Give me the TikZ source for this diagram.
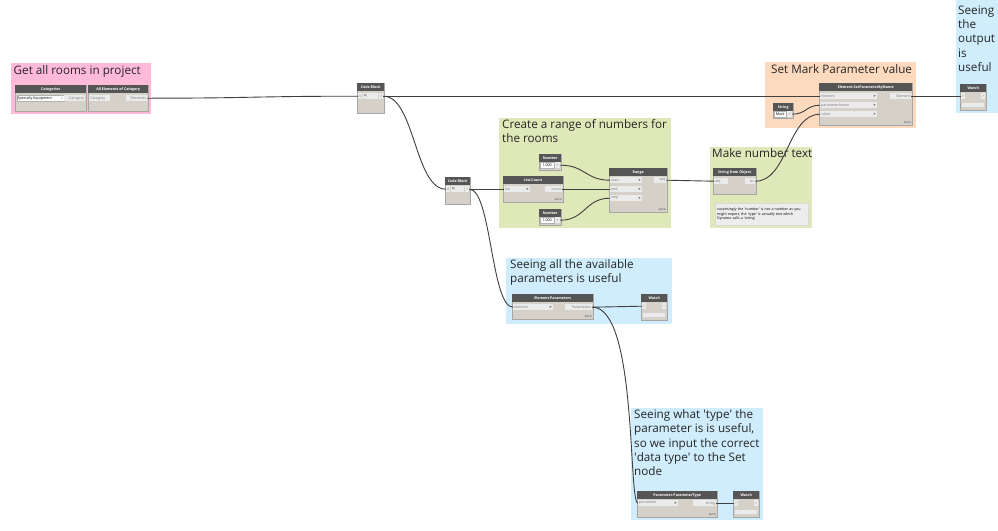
\documentclass[tikz,border=0pt]{standalone}
\usepackage{fontspec}
\setmainfont{Open Sans}
\usetikzlibrary{calc}
\definecolor{grpPink}{HTML}{FFBAD9}
\definecolor{grpGreen}{HTML}{DFE8B8}
\definecolor{grpOrange}{HTML}{FDD9BE}
\definecolor{grpBlue}{HTML}{CFEDFC}
\definecolor{hdr}{HTML}{555555}
\definecolor{bodyc}{HTML}{D5D1C9}
\definecolor{portc}{HTML}{EBEBEB}
\definecolor{wirec}{HTML}{3F3F3F}
\definecolor{ptxt}{HTML}{7A7A7A}
\newcommand{\sq}{\textquotesingle}
\tikzset{
 gtitle/.style={anchor=north west, inner sep=0, align=left, font=\fontsize{11.7}{14.3}\selectfont, text=black!85},
 dbody/.style={anchor=north west, fill=bodyc, draw=black!35, line width=0.4, inner sep=0},
 dhead/.style={anchor=north west, fill=hdr, text=white, inner sep=0, minimum height=8pt, font=\fontsize{3.6}{4}\selectfont\bfseries},
 portbox/.style={anchor=north west, fill=portc, inner sep=0, minimum height=6pt},
 ptext/.style={inner sep=0, text=ptxt, font=\fontsize{3.6}{4}\selectfont},
 valbox/.style={anchor=north west, fill=white, draw=black!30, line width=0.3, inner sep=0, minimum height=6pt, font=\fontsize{3.6}{4}\selectfont},
 autot/.style={inner sep=0, anchor=south east, font=\fontsize{2.4}{3}\selectfont\bfseries, text=black!60},
 watchbox/.style={anchor=north west, fill=portc, inner sep=0, minimum height=4pt},
 notebox/.style={anchor=north west, fill=black!7, draw=black!15, line width=0.3, inner xsep=2pt, inner ysep=1.5pt, text width=89pt, minimum height=22pt, align=left, font=\fontsize{3.6}{4.6}\selectfont},
 wire/.style={draw=wirec, line width=0.9},
}
\newcommand{\dyn}[6]{%
 \node[dbody, minimum width=#4pt, minimum height=#5pt] (#1) at (#2,#3) {};
 \node[dhead, minimum width=#4pt] (#1-h) at (#2,#3) {#6};}
\newcommand{\inport}[5]{%
 \node[portbox, minimum width=#4pt] (#1) at (#2,#3) {};
 \node[ptext, anchor=west] (#1-l) at ([xshift=1pt]#1.west) {#5};
 \node[ptext, anchor=east, text=black] (#1-a) at ([xshift=-1.5pt]#1.east) {\textbf{>}};}
\newcommand{\plainport}[5]{%
 \node[portbox, minimum width=#4pt] (#1) at (#2,#3) {};
 \node[ptext, anchor=west] (#1-l) at ([xshift=1pt]#1.west) {#5};}
\newcommand{\outport}[5]{%
 \node[portbox, minimum width=#4pt] (#1) at (#2,#3) {};
 \node[ptext, anchor=east] (#1-l) at ([xshift=-1pt]#1.east) {#5};}
\newcommand{\tabport}[5]{%
 \node[portbox, minimum width=#4pt] (#1) at (#2,#3) {};
 \node[ptext] (#1-l) at (#1.center) {#5};}
\newcommand{\autolabel}[1]{\node[autot] (#1-auto) at ([xshift=-1.5pt,yshift=1.2pt]#1.south east) {AUTO};}
\newcommand{\watch}[3]{%
 \dyn{#1}{#2}{#3}{26}{26}{Watch}
 \tabport{#1-i}{#2+1}{#3+9}{4}{>}
 \tabport{#1-o}{#2+21}{#3+9}{4}{>}
 \node[watchbox, minimum width=22pt] (#1-b) at (#2+2,#3+19) {};}
\newcommand{\wire}[2]{\draw[wire] let \p1=(#1), \p2=(#2) in (\p1) .. controls ({(\x1+\x2)/2},\y1) and ({(\x1+\x2)/2},\y2) .. (\p2);}
\begin{document}
\begin{tikzpicture}[x=1pt,y=-1pt]
\useasboundingbox (0,0) rectangle (998,530);
\fill[white] (0,0) rectangle (998,530);
% groups
\fill[grpPink] (11,63) rectangle (151,114);
\fill[grpGreen] (499,118) rectangle (671,228);
\fill[grpGreen] (710,147) rectangle (812,228);
\fill[grpOrange] (765,62) rectangle (916,128);
\fill[grpBlue] (956,0) rectangle (998,113);
\fill[grpBlue] (506,258) rectangle (672,324);
\fill[grpBlue] (631,408) rectangle (763,520);
% titles
\node[gtitle] (t1) at (13.5,65) {Get all rooms in project};
\node[gtitle] (t2) at (502,119.5) {Create a range of numbers for\\the rooms};
\node[gtitle] (t3) at (712,148.5) {Make number text};
\node[gtitle] (t4) at (771,64.5) {Set Mark Parameter value};
\node[gtitle] (t5) at (958,5.5) {Seeing\\the\\output\\is\\useful};
\node[gtitle] (t6) at (510,259.5) {Seeing all the available\\parameters is useful};
\node[gtitle] (t7) at (634,409.5) {Seeing what \sq type\sq{} the\\parameter is is useful,\\so we input the correct\\\sq data type\sq{} to the Set\\node};
% Categories
\dyn{cat}{15}{85}{71}{26}{Categories}
\node[valbox, minimum width=47pt] (cat-v) at (16.5,95) {};
\node[ptext, text=black, anchor=west] (cat-vl) at ([xshift=1pt]cat-v.west) {Specialty Equipment};
\node[ptext, anchor=east] (cat-va) at ([xshift=-1pt]cat-v.east) {v};
\outport{cat-o}{64}{95}{21}{Category}
% All elements
\dyn{ae}{88}{85}{60}{26}{All Elements of Category}
\plainport{ae-i}{89}{95}{21}{Category}
\outport{ae-o}{126}{95}{21}{Elements}
% Code blocks
\dyn{cb1}{357}{83}{27}{30}{Code Block}
\tabport{cb1-i}{358}{93}{4}{x}
\plainport{cb1-c}{363}{93}{15}{\textcolor{black}{x;}}
\tabport{cb1-o}{379}{93}{4}{>}
\dyn{cb2}{445}{177}{25}{27}{Code Block}
\tabport{cb2-i}{446}{186}{4}{x}
\plainport{cb2-c}{451}{186}{13}{\textcolor{black}{x;}}
\tabport{cb2-o}{465}{186}{4}{>}
% Numbers / List.Count / Range
\dyn{n1}{539}{154}{22}{16}{Number}
\node[valbox, minimum width=14pt] (n1-v) at (540,162) {1.000};
\tabport{n1-o}{555}{162}{5}{>}
\dyn{lc}{503}{176}{60}{26}{List.Count}
\inport{lc-i}{504}{186}{26}{list}
\outport{lc-o}{545}{186}{17}{count}
\autolabel{lc}
\dyn{n2}{539}{209}{22}{16}{Number}
\node[valbox, minimum width=14pt] (n2-v) at (540,217) {1.000};
\tabport{n2-o}{555}{217}{5}{>}
\dyn{rng}{609}{168}{58}{44}{Range}
\inport{rng-s}{610}{177}{32}{start}
\inport{rng-e}{610}{186}{32}{end}
\inport{rng-t}{610}{195}{32}{step}
\outport{rng-o}{654}{177}{12}{seq}
\autolabel{rng}
% String from Object + note
\dyn{sfo}{713}{168}{43}{26}{String from Object}
\plainport{sfo-i}{714}{178}{14}{obj}
\outport{sfo-o}{745}{178}{10}{str}
\node[notebox] (note) at (715,203) {surprisingly the \sq number\sq{} is not a number as you\\might expect, the \sq type\sq{} is actually text which\\Dynamo calls a \sq string\sq};
% String + SetParameterByName
\dyn{str}{773}{103}{20}{15}{String}
\node[valbox, minimum width=12pt] (str-v) at (774,111) {Mark};
\tabport{str-o}{787}{111}{5}{>}
\dyn{spn}{819}{83}{93}{42}{Element.SetParameterByName}
\inport{spn-e}{820}{93}{57}{element}
\inport{spn-p}{820}{102}{57}{parameterName}
\inport{spn-v}{820}{111}{57}{value}
\outport{spn-o}{890}{93}{21}{Element}
\autolabel{spn}
\watch{w1}{960}{84}
% Element.Parameters
\dyn{ep}{512}{294}{81}{25}{Element.Parameters}
\inport{ep-i}{513}{304}{40}{element}
\outport{ep-o}{565}{304}{27}{Parameters}
\autolabel{ep}
\watch{w2}{641}{294}
% ParameterType
\dyn{pt}{637}{491}{80}{26}{Parameter.ParameterType}
\inport{pt-i}{638}{500}{40}{parameter}
\outport{pt-o}{693}{500}{23}{string}
\autolabel{pt}
\watch{w3}{733}{491}
% wires
\wire{ae-o.east}{cb1-i.west}
\wire{cb1-o.east}{spn-e.west}
\wire{cb1-o.east}{cb2-i.west}
\wire{cb2-o.east}{lc-i.west}
\wire{cb2-o.east}{ep-i.west}
\wire{n1-o.east}{rng-s.west}
\wire{lc-o.east}{rng-e.west}
\wire{n2-o.east}{rng-t.west}
\wire{rng-o.east}{sfo-i.west}
\wire{sfo-o.east}{spn-v.west}
\wire{str-o.east}{spn-p.west}
\wire{spn-o.east}{w1-i.west}
\wire{ep-o.east}{w2-i.west}
\draw[wire] (ep-o.east) .. controls +(45,0) and +(-10,0) .. (pt-i.west);
\wire{pt-o.east}{w3-i.west}
\end{tikzpicture}
\end{document}
